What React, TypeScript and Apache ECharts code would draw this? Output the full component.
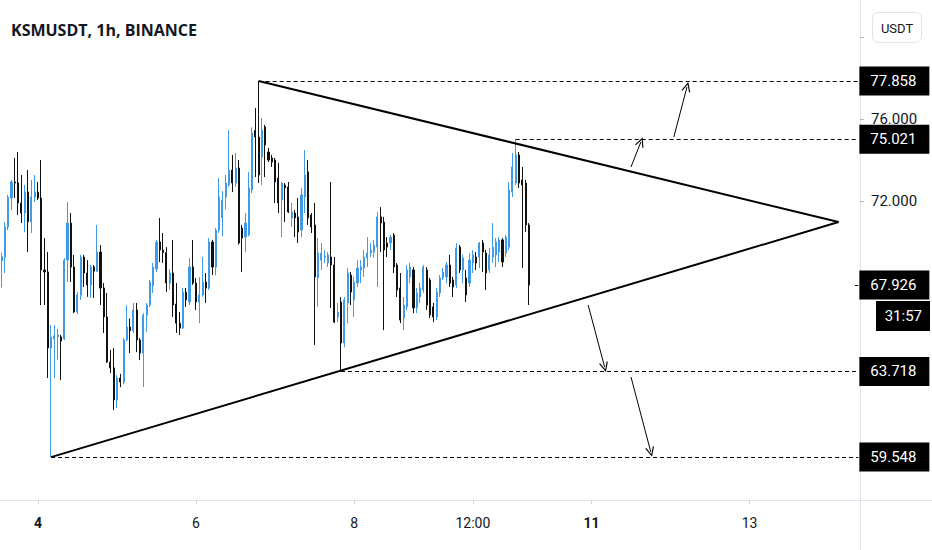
import React, { useEffect, useRef } from 'react';
import * as echarts from 'echarts';

// hourly candles, KSMUSDT on Binance (first candle = 3rd 13:00)
const opens = [
  69.1, 69.29, 70.75, 72.16, 72.94, 72.9, 71.92, 71.43, 72.45, 71.0,
  72.21, 72.45, 72.16, 68.66, 68.56, 64.86, 65.3, 65.4, 65.4, 65.3,
  69.14, 70.94, 68.8, 66.61, 67.44, 69.29, 68.51, 67.93, 68.8, 68.6,
  69.53, 67.78, 66.37, 64.18, 63.89, 62.33, 63.4, 63.2, 65.25, 65.88,
  65.7, 66.71, 65.25, 64.61, 66.46, 66.95, 67.9, 68.7, 70.02, 69.63,
  69.5, 68.02, 68.51, 67.0, 66.07, 65.83, 67.58, 67.1, 68.8, 68.02,
  67.1, 67.44, 68.07, 67.78, 70.02, 68.8, 70.6, 71.2, 72.21, 72.8,
  73.52, 72.89, 73.62, 70.7, 70.26, 70.36, 72.55, 75.45, 75.13, 74.16,
  75.62, 74.4, 74.11, 74.01, 73.13, 72.06, 72.79, 72.7, 71.19, 71.43,
  71.24, 70.6, 72.21, 73.43, 71.33, 70.85, 68.27, 69.14, 69.29, 69.0,
  69.29, 68.9, 66.37, 67.1, 65.1, 67.05, 68.41, 67.2, 68.02, 68.66,
  68.75, 69.24, 69.48, 69.53, 69.77, 71.24, 70.99, 69.97, 69.97, 70.36,
  68.9, 67.78, 66.32, 66.86, 68.32, 68.66, 66.81, 67.34, 67.68, 68.66,
  68.17, 66.86, 66.37, 67.54, 68.27, 68.32, 68.9, 68.17, 67.93, 69.77,
  68.66, 68.27, 68.02, 69.0, 69.29, 69.29, 69.97, 69.48, 68.66, 69.29,
  69.39, 69.53, 70.12, 69.48, 69.77, 72.45, 72.89, 74.26, 73.04, 72.89,
  70.85,
];
const closes = [
  69.3, 70.75, 72.21, 72.94, 72.89, 71.92, 71.43, 72.45, 71.0, 72.21,
  72.45, 72.16, 68.66, 68.56, 64.86, 65.4, 65.45, 65.5, 65.2, 69.14,
  70.94, 68.8, 66.61, 67.44, 69.29, 68.51, 67.93, 68.8, 68.6, 69.53,
  67.78, 66.37, 64.18, 63.89, 62.33, 63.4, 63.2, 65.25, 65.88, 65.7,
  66.71, 65.25, 64.61, 66.46, 66.95, 68.07, 68.8, 70.02, 69.63, 69.5,
  68.02, 68.51, 66.95, 66.07, 65.83, 67.58, 67.2, 68.8, 68.02, 67.1,
  67.44, 68.07, 67.78, 70.02, 68.8, 70.6, 72.21, 72.06, 72.89, 73.52,
  72.89, 73.62, 69.97, 70.21, 70.94, 72.65, 75.33, 75.13, 73.28, 75.47,
  74.74, 74.01, 73.91, 72.94, 71.92, 72.89, 72.65, 71.48, 71.48, 71.19,
  70.51, 72.31, 73.28, 71.19, 70.75, 68.32, 69.48, 69.48, 69.34, 69.39,
  68.9, 66.12, 66.61, 65.1, 67.2, 68.51, 67.58, 68.07, 68.75, 68.8,
  69.29, 69.48, 69.63, 69.87, 71.24, 70.94, 69.63, 69.77, 70.26, 68.8,
  67.68, 66.22, 66.95, 68.66, 68.8, 66.81, 67.54, 67.78, 68.8, 66.95,
  66.47, 66.37, 67.58, 68.27, 68.56, 68.9, 68.02, 67.83, 69.73, 68.66,
  69.24, 67.44, 69.14, 69.39, 69.0, 69.97, 69.53, 68.51, 69.39, 69.77,
  70.02, 70.12, 69.05, 70.26, 72.55, 73.67, 74.26, 72.89, 72.79, 70.85,
  67.926,
];
const lows = [
  67.8, 68.51, 70.6, 71.58, 72.16, 71.33, 70.94, 70.5, 69.53, 70.46,
  71.97, 72.06, 66.95, 66.95, 63.4, 59.548, 63.4, 64.3, 63.3, 65.25,
  68.07, 68.07, 66.56, 66.51, 67.2, 67.83, 67.35, 67.3, 67.3, 68.56,
  66.95, 65.59, 64.13, 63.64, 61.84, 61.94, 62.95, 63.1, 65.2, 64.61,
  65.6, 64.66, 64.27, 62.96, 65.64, 66.85, 67.54, 68.56, 69.04, 69.0,
  67.58, 67.7, 66.37, 65.59, 65.49, 65.78, 66.86, 66.95, 67.93, 66.71,
  66.07, 67.35, 67.05, 67.68, 68.41, 68.4, 70.46, 70.3, 71.6, 72.7,
  72.45, 72.7, 69.9, 68.56, 69.53, 70.3, 72.4, 73.18, 72.89, 72.79,
  73.18, 73.91, 73.67, 71.92, 71.43, 70.26, 70.99, 71.43, 70.75, 70.26,
  69.97, 70.26, 71.43, 70.85, 70.46, 65.01, 66.86, 68.66, 69.0, 68.8,
  66.81, 66.07, 66.12, 63.718, 64.9, 66.07, 66.95, 66.37, 67.83, 68.02,
  68.32, 68.8, 69.29, 69.24, 67.83, 69.53, 65.73, 69.29, 69.63, 68.51,
  67.34, 66.07, 65.73, 66.71, 68.02, 66.56, 66.56, 67.05, 67.54, 66.71,
  66.32, 66.12, 66.22, 67.34, 68.17, 68.02, 67.83, 67.34, 67.78, 68.51,
  68.02, 67.1, 67.83, 68.51, 68.66, 68.75, 68.56, 67.68, 68.51, 69.0,
  68.8, 69.05, 68.8, 69.29, 69.63, 72.21, 72.79, 72.65, 68.75, 70.51,
  66.95,
];
const highs = [
  69.5, 70.99, 72.31, 73.04, 74.11, 74.4, 73.28, 72.79, 73.52, 73.04,
  73.28, 72.94, 74.01, 70.21, 69.53, 65.98, 65.98, 65.8, 65.5, 69.24,
  71.97, 71.43, 69.39, 67.58, 69.39, 69.39, 69.14, 68.9, 68.9, 70.85,
  69.87, 68.02, 67.54, 64.76, 64.86, 63.54, 63.6, 65.35, 66.95, 66.3,
  67.05, 67.05, 65.35, 66.56, 67.05, 68.17, 69.0, 70.12, 71.19, 70.46,
  69.77, 68.7, 70.12, 68.02, 66.61, 67.78, 67.78, 69.24, 70.12, 68.27,
  68.31, 69.29, 68.51, 70.21, 70.12, 70.7, 73.13, 72.5, 73.3, 75.47,
  74.26, 74.35, 74.01, 70.85, 71.43, 73.43, 75.6, 76.54, 77.858, 76.06,
  75.72, 74.6, 74.26, 74.11, 73.87, 72.94, 72.89, 72.94, 71.92, 71.58,
  72.16, 72.65, 74.5, 74.01, 71.43, 71.92, 70.21, 69.97, 69.63, 69.53,
  72.94, 69.29, 67.05, 67.34, 67.34, 68.75, 68.56, 68.32, 69.14, 69.14,
  69.63, 70.26, 69.97, 70.12, 71.48, 71.72, 71.24, 70.26, 70.36, 70.46,
  69.0, 68.51, 67.34, 68.9, 69.0, 68.8, 67.78, 68.02, 68.9, 68.8,
  68.27, 67.05, 67.78, 68.41, 68.75, 69.05, 69.39, 68.32, 69.97, 69.87,
  69.39, 68.66, 69.48, 69.63, 69.53, 70.02, 70.12, 69.63, 69.73, 70.94,
  70.21, 70.26, 70.21, 70.36, 72.94, 74.35, 75.021, 74.4, 73.67, 73.04,
  70.94,
];

// time slots: hourly from the 3rd 13:00, with empty room to the right
const startDay = 4;
const startHour = -11;
const slotCount = 261;
const categories = Array.from({ length: slotCount }, (_, i) => {
  const h = i + startHour;
  const day = startDay + Math.floor(h / 24);
  const hour = ((h % 24) + 24) % 24;
  return `${day} ${String(hour).padStart(2, '0')}:00`;
});
const timeTicks = ['4 00:00', '6 00:00', '8 00:00', '9 12:00', '11 00:00', '13 00:00'];
const boldTicks = ['4 00:00', '11 00:00'];

// 60/64/68/80 sit under the price boxes and the currency button
const priceTicks = [60, 64, 68, 72, 76, 80];
const priceLabels = [72, 76];

// drawings: [slot, price]
const levelPrices = [77.858, 75.021, 63.718, 59.548];
const levelStarts = [78, 156, 103, 15];
const lastSlot = 260;
const apex: [number, number] = [254, 70.99];
const upperTrend: [number, number][] = [[78, 77.858], apex];
const lowerTrend: [number, number][] = [[15, 59.548], apex];
const arrows: [number, number][][] = [
  [[204, 75.13], [208, 77.57]],
  [[191, 73.67], [194, 74.89]],
  [[178, 66.95], [183, 63.93]],
  [[191, 63.45], [197, 59.8]],
];
const lastPrice = 67.926;
const countdown = '31:57';

const UP = '#3f9ae8';
const DOWN = '#111111';
const chevron = 'path://M0,12L6,0L12,12L10.6,12.7L6,3.2L1.4,12.7Z';

const boxStyle = {
  backgroundColor: '#000',
  color: '#fff',
  fontSize: 15,
  fontFamily: 'Roboto',
  lineHeight: 16,
  padding: [7, 8, 7, 11],
  width: 51,
};

const priceBox = (p: number, start: number, dashed: boolean) => [
  {
    coord: [start, p],
    lineStyle: { color: '#000', width: 1, type: dashed ? [4, 3] : 'solid' },
    label: {
      show: true,
      position: 'end',
      distance: 1,
      formatter: `{v|${p.toFixed(3)}}`,
      rich: { v: boxStyle },
    },
  },
  { coord: [lastSlot, p] },
];

export default function App() {
  const chartRef = useRef<HTMLDivElement>(null);

  useEffect(() => {
    if (!chartRef.current) return;
    const chart = echarts.init(chartRef.current, null, { renderer: 'svg' });

    const levelLines = levelPrices.map((p, i) => priceBox(p, levelStarts[i], true));

    const trendLines = [upperTrend, lowerTrend].map((t) => [
      { coord: t[0], lineStyle: { color: '#000', width: 2, type: 'solid' } },
      { coord: t[1] },
    ]);

    const arrowLines = arrows.map((a) => [
      { coord: a[0], symbol: 'none', lineStyle: { color: '#000', width: 1, type: 'solid' } },
      { coord: a[1], symbol: chevron, symbolSize: [9, 10] },
    ]);

    chart.setOption({
      animation: false,
      backgroundColor: '#fff',
      title: {
        text: 'KSMUSDT, 1h, BINANCE',
        left: 11,
        top: 22,
        padding: 0,
        textStyle: { fontFamily: 'Open Sans', fontWeight: 'bold', fontSize: 16, color: '#131722' },
      },
      grid: { left: 0, right: 72, top: 0, bottom: 50 },
      xAxis: {
        type: 'category',
        data: categories,
        boundaryGap: true,
        axisLine: { lineStyle: { color: '#e0e3eb' } },
        axisTick: {
          show: true,
          alignWithLabel: true,
          length: 4,
          interval: (_i: number, v: string) => timeTicks.includes(v),
          lineStyle: { color: '#d1d4dc' },
        },
        axisLabel: {
          interval: (_i: number, v: string) => timeTicks.includes(v),
          margin: 16,
          color: '#131722',
          fontSize: 14,
          fontFamily: 'Roboto',
          formatter: (v: string) => {
            const [day, hour] = v.split(' ');
            const text = hour === '00:00' ? day : hour;
            return boldTicks.includes(v) ? `{b|${text}}` : text;
          },
          rich: { b: { fontWeight: 'bold', fontSize: 14, fontFamily: 'Roboto', color: '#131722' } },
        },
        splitLine: { show: false },
      },
      yAxis: {
        type: 'value',
        position: 'right',
        min: 57.46,
        max: 81.8,
        axisLine: { show: true, lineStyle: { color: '#e0e3eb' } },
        axisTick: { show: true, length: 4, customValues: priceTicks, lineStyle: { color: '#b2b5be' } },
        axisLabel: {
          customValues: priceLabels,
          margin: 11,
          color: '#131722',
          fontSize: 15,
          fontFamily: 'Roboto',
          formatter: (v: number) => v.toFixed(3),
        },
        splitLine: { show: false },
      },
      series: [
        {
          type: 'candlestick',
          data: opens.map((o, i) => [o, closes[i], lows[i], highs[i]]),
          barWidth: 1.6,
          itemStyle: {
            color: UP,
            color0: DOWN,
            borderColor: UP,
            borderColor0: DOWN,
            borderWidth: 1,
          },
          markLine: {
            silent: true,
            animation: false,
            symbol: 'none',
            label: { show: false },
            emphasis: { disabled: true },
            data: [
              ...trendLines,
              ...levelLines,
              ...arrowLines,
              priceBox(lastPrice, lastSlot - 1, false),
            ],
          },
        },
      ],
    });

    // countdown box sits right under the last-price box
    const py = chart.convertToPixel({ yAxisIndex: 0 }, lastPrice) as number;

    chart.setOption({
      graphic: [
        {
          type: 'line',
          shape: { x1: 860.5, y1: 500, x2: 860.5, y2: 550 },
          style: { stroke: '#e0e3eb', lineWidth: 1 },
        },
        {
          type: 'line',
          shape: { x1: 860, y1: 500.5, x2: 932, y2: 500.5 },
          style: { stroke: '#e0e3eb', lineWidth: 1 },
        },
        {
          type: 'rect',
          z: 100,
          shape: { x: 872.5, y: 12.5, width: 49, height: 30, r: 6 },
          style: { fill: '#fff', stroke: '#e0e3eb', lineWidth: 1 },
        },
        {
          type: 'text',
          z: 101,
          x: 897,
          y: 28,
          style: {
            text: 'USDT',
            fill: '#131722',
            fontSize: 13,
            fontFamily: 'Roboto',
            align: 'center',
            verticalAlign: 'middle',
          },
        },
        {
          type: 'rect',
          z: 100,
          shape: { x: 876, y: py + 16, width: 54, height: 30 },
          style: { fill: '#000' },
        },
        {
          type: 'text',
          z: 101,
          x: 922,
          y: py + 31,
          style: {
            text: countdown,
            fill: '#fff',
            fontSize: 15,
            fontFamily: 'Roboto',
            align: 'right',
            verticalAlign: 'middle',
          },
        },
      ],
    });

    return () => chart.dispose();
  }, []);

  return (
    <div
      ref={chartRef}
      style={{ position: 'fixed', left: 0, top: 0, width: 932, height: 550 }}
    />
  );
}
